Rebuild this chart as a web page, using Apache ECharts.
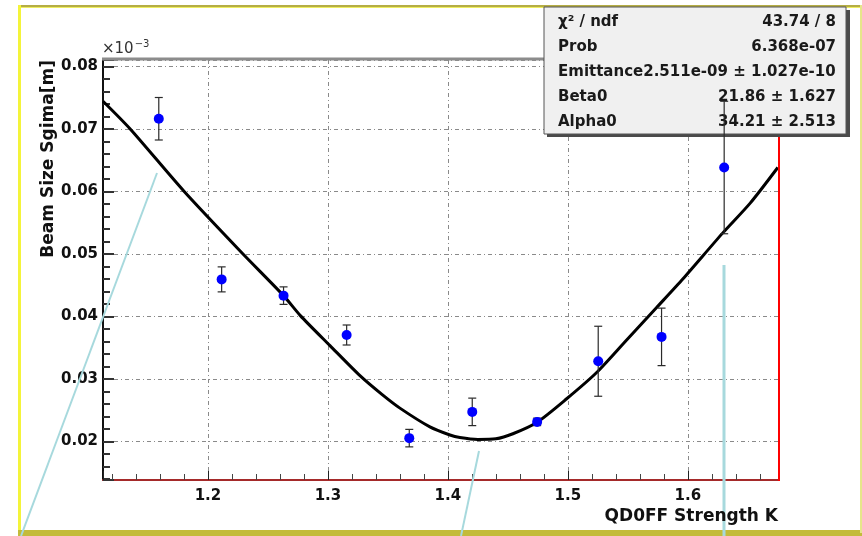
<!DOCTYPE html>
<html><head><meta charset="utf-8">
<script src="https://cdn.jsdelivr.net/npm/echarts@6/dist/echarts.min.js"></script>
<style>html,body{margin:0;padding:0;background:#fff}#c{width:862px;height:536px}</style>
</head><body><div id="c"></div>
<script>
// ---- data ----
const strengthK = [1.159, 1.2114, 1.263, 1.3156, 1.3678, 1.4203, 1.4744, 1.5253, 1.5781, 1.6303];
const beamSigma = [0.0716, 0.0459, 0.0433, 0.0370, 0.0205, 0.0247, 0.0231, 0.0328, 0.0367, 0.0638];
const sigmaErr  = [0.0034, 0.0020, 0.0014, 0.0016, 0.0014, 0.0022, 0.0006, 0.0056, 0.0046, 0.0106];
const fitK     = [1.1125, 1.135, 1.18, 1.229, 1.263, 1.277, 1.3017, 1.3267, 1.345, 1.36, 1.385, 1.4017, 1.41, 1.425, 1.44, 1.4542, 1.474, 1.499, 1.524, 1.549, 1.574, 1.596, 1.629, 1.652, 1.675];
const fitSigma = [0.0744, 0.0700, 0.0600, 0.0500, 0.0433, 0.0401, 0.0353, 0.0305, 0.0275, 0.0253, 0.0223, 0.0210, 0.0206, 0.0203, 0.0204, 0.0212, 0.0230, 0.0268, 0.0310, 0.0362, 0.0414, 0.0460, 0.0533, 0.0581, 0.0638];
const xTickLabels = ['1.2', '1.3', '1.4', '1.5', '1.6'];
const yTickLabels = ['0.02', '0.03', '0.04', '0.05', '0.06', '0.07', '0.08'];
const xTitle = 'QD0FF Strength K';
const yTitle = 'Beam Size Sgima[m]';
const statsNames  = ['χ² / ndf', 'Prob', '', 'Beta0', 'Alpha0'];
const statsValues = ['43.74 / 8', '6.368e-07', '', '21.86 ± 1.627', '34.21 ± 2.513'];
const emittanceRow = 'Emittance2.511e-09 ± 1.027e-10';

const FONT = "'DejaVu Sans', 'Liberation Sans', sans-serif";
const pickLabel = (list, v) => list.find(l => Math.abs(parseFloat(l) - v) < 1e-7) || '';

const chart = echarts.init(document.getElementById('c'), null, {renderer: 'canvas'});

const statsText = [];
const rowY = [22, 47, 72, 97, 122];
statsNames.forEach((n, i) => {
  if (!n) return;
  statsText.push({type: 'text', x: 558, y: rowY[i], z: 6,
    style: {text: n, font: 'bold 15px ' + FONT, fill: '#1a1a1a', textVerticalAlign: 'middle'}});
  statsText.push({type: 'text', x: 836, y: rowY[i], z: 6,
    style: {text: statsValues[i], font: 'bold 15px ' + FONT, fill: '#1a1a1a', textAlign: 'right', textVerticalAlign: 'middle'}});
});
statsText.push({type: 'text', x: 558, y: rowY[2], z: 6,
  style: {text: emittanceRow, font: 'bold 15px ' + FONT, fill: '#1a1a1a', textVerticalAlign: 'middle',
          width: 282, overflow: 'truncate', ellipsis: ''}});

const option = {
  backgroundColor: '#ffffff',
  animation: false,
  grid: {left: 103, right: 83, top: 60, bottom: 56, show: false},
  xAxis: {
    type: 'value', min: 1.1125, max: 1.676, splitNumber: 5,
    axisLine: {show: true, lineStyle: {color: '#a52a2a', width: 2}},
    axisTick: {show: true, inside: true, length: 9, lineStyle: {color: '#222', width: 1}},
    minorTick: {show: true, splitNumber: 5, length: 6, lineStyle: {color: '#444', width: 1}},
    axisLabel: {margin: 9, color: '#111', fontFamily: FONT, fontWeight: 'bold', fontSize: 15,
                formatter: v => pickLabel(xTickLabels, v)},
    splitLine: {show: true, lineStyle: {color: '#8a8a8a', width: 1, type: [4, 3, 1, 3]}}
  },
  yAxis: {
    type: 'value', min: 0.0138, max: 0.081, splitNumber: 6,
    axisLine: {show: true, lineStyle: {color: '#111', width: 2}},
    axisTick: {show: true, inside: true, length: 11, lineStyle: {color: '#333', width: 2}},
    minorTick: {show: true, splitNumber: 5, length: 7, lineStyle: {color: '#333', width: 2}},
    axisLabel: {margin: 5, color: '#111', fontFamily: FONT, fontWeight: 'bold', fontSize: 15,
                formatter: v => pickLabel(yTickLabels, v)},
    splitLine: {show: true, lineStyle: {color: '#8a8a8a', width: 1, type: [4, 3, 1, 3]}}
  },
  series: [
    {
      type: 'line', name: 'fit', z: 3, showSymbol: false, smooth: 0.25,
      data: fitK.map((k, i) => [k, fitSigma[i]]),
      lineStyle: {color: '#000', width: 3}
    },
    {
      type: 'custom', name: 'err', z: 10, clip: false,
      data: strengthK.map((k, i) => [k, beamSigma[i], sigmaErr[i]]),
      renderItem: (params, api) => {
        const x = api.value(0), y = api.value(1), e = api.value(2);
        const t = api.coord([x, y + e]), b = api.coord([x, y - e]);
        const hw = 4, st = {stroke: '#2a2a2a', lineWidth: 1.2};
        return {type: 'group', children: [
          {type: 'line', shape: {x1: t[0], y1: t[1], x2: b[0], y2: b[1]}, style: st},
          {type: 'line', shape: {x1: t[0] - hw, y1: t[1], x2: t[0] + hw, y2: t[1]}, style: st},
          {type: 'line', shape: {x1: b[0] - hw, y1: b[1], x2: b[0] + hw, y2: b[1]}, style: st}
        ]};
      }
    },
    {
      type: 'scatter', name: 'data', z: 11, symbol: 'circle', symbolSize: 10,
      data: strengthK.map((k, i) => [k, beamSigma[i]]),
      itemStyle: {color: '#0000ff', opacity: 1}
    }
  ],
  graphic: [
    // canvas border
    {type: 'rect', z: 1, shape: {x: 18, y: 5, width: 844, height: 2}, style: {fill: '#b5ad45'}},
    {type: 'rect', z: 1, shape: {x: 18, y: 7, width: 844, height: 1}, style: {fill: '#eeee60'}},
    {type: 'rect', z: 1, shape: {x: 18, y: 5, width: 3, height: 528}, style: {fill: '#f4f43a'}},
    {type: 'rect', z: 1, shape: {x: 18, y: 530, width: 844, height: 6}, style: {fill: '#c3bb3a'}},
    {type: 'rect', z: 1, shape: {x: 860, y: 5, width: 2, height: 528}, style: {fill: '#e6e68a'}},
    // frame top and right
    {type: 'line', z: 1, shape: {x1: 102, y1: 59, x2: 780, y2: 59}, style: {stroke: '#8c8c8c', lineWidth: 3}},
    {type: 'line', z: 4, shape: {x1: 779, y1: 134, x2: 779, y2: 481}, style: {stroke: '#ff0000', lineWidth: 2}},
    // light cyan annotation strokes
    {type: 'line', z: 4, shape: {x1: 157, y1: 173, x2: 21, y2: 536}, style: {stroke: '#a7d9dd', lineWidth: 2}},
    {type: 'line', z: 4, shape: {x1: 479, y1: 451, x2: 461, y2: 536}, style: {stroke: '#a7d9dd', lineWidth: 2}},
    {type: 'line', z: 4, shape: {x1: 724, y1: 265, x2: 724, y2: 536}, style: {stroke: '#a7d9dd', lineWidth: 3}},
    // exponent marker
    {type: 'text', z: 4, x: 102, y: 49,
      style: {text: '×10{s|−3}', font: '15px ' + FONT, fill: '#333', textVerticalAlign: 'middle',
              rich: {s: {fontSize: 10, fontFamily: FONT, fill: '#333', padding: [0, 0, 10, 1]}}}},
    // axis titles
    {type: 'text', z: 4, x: 778, y: 517,
      style: {text: xTitle, font: 'bold 17px ' + FONT, fill: '#111', textAlign: 'right', textVerticalAlign: 'middle'}},
    {type: 'text', z: 4, x: 49, y: 60, rotation: Math.PI / 2,
      style: {text: yTitle, font: 'bold 17px ' + FONT, fill: '#111', textAlign: 'right', textVerticalAlign: 'middle'}},
    // stats box with shadow
    {type: 'rect', z: 5, shape: {x: 547, y: 10, width: 303, height: 127}, style: {fill: '#4a4a4a'}},
    {type: 'rect', z: 5, shape: {x: 544, y: 7, width: 302, height: 127}, style: {fill: '#f0f0f0', stroke: '#555', lineWidth: 1}},
    ...statsText
  ]
};
chart.setOption(option);
</script>
</body></html>
